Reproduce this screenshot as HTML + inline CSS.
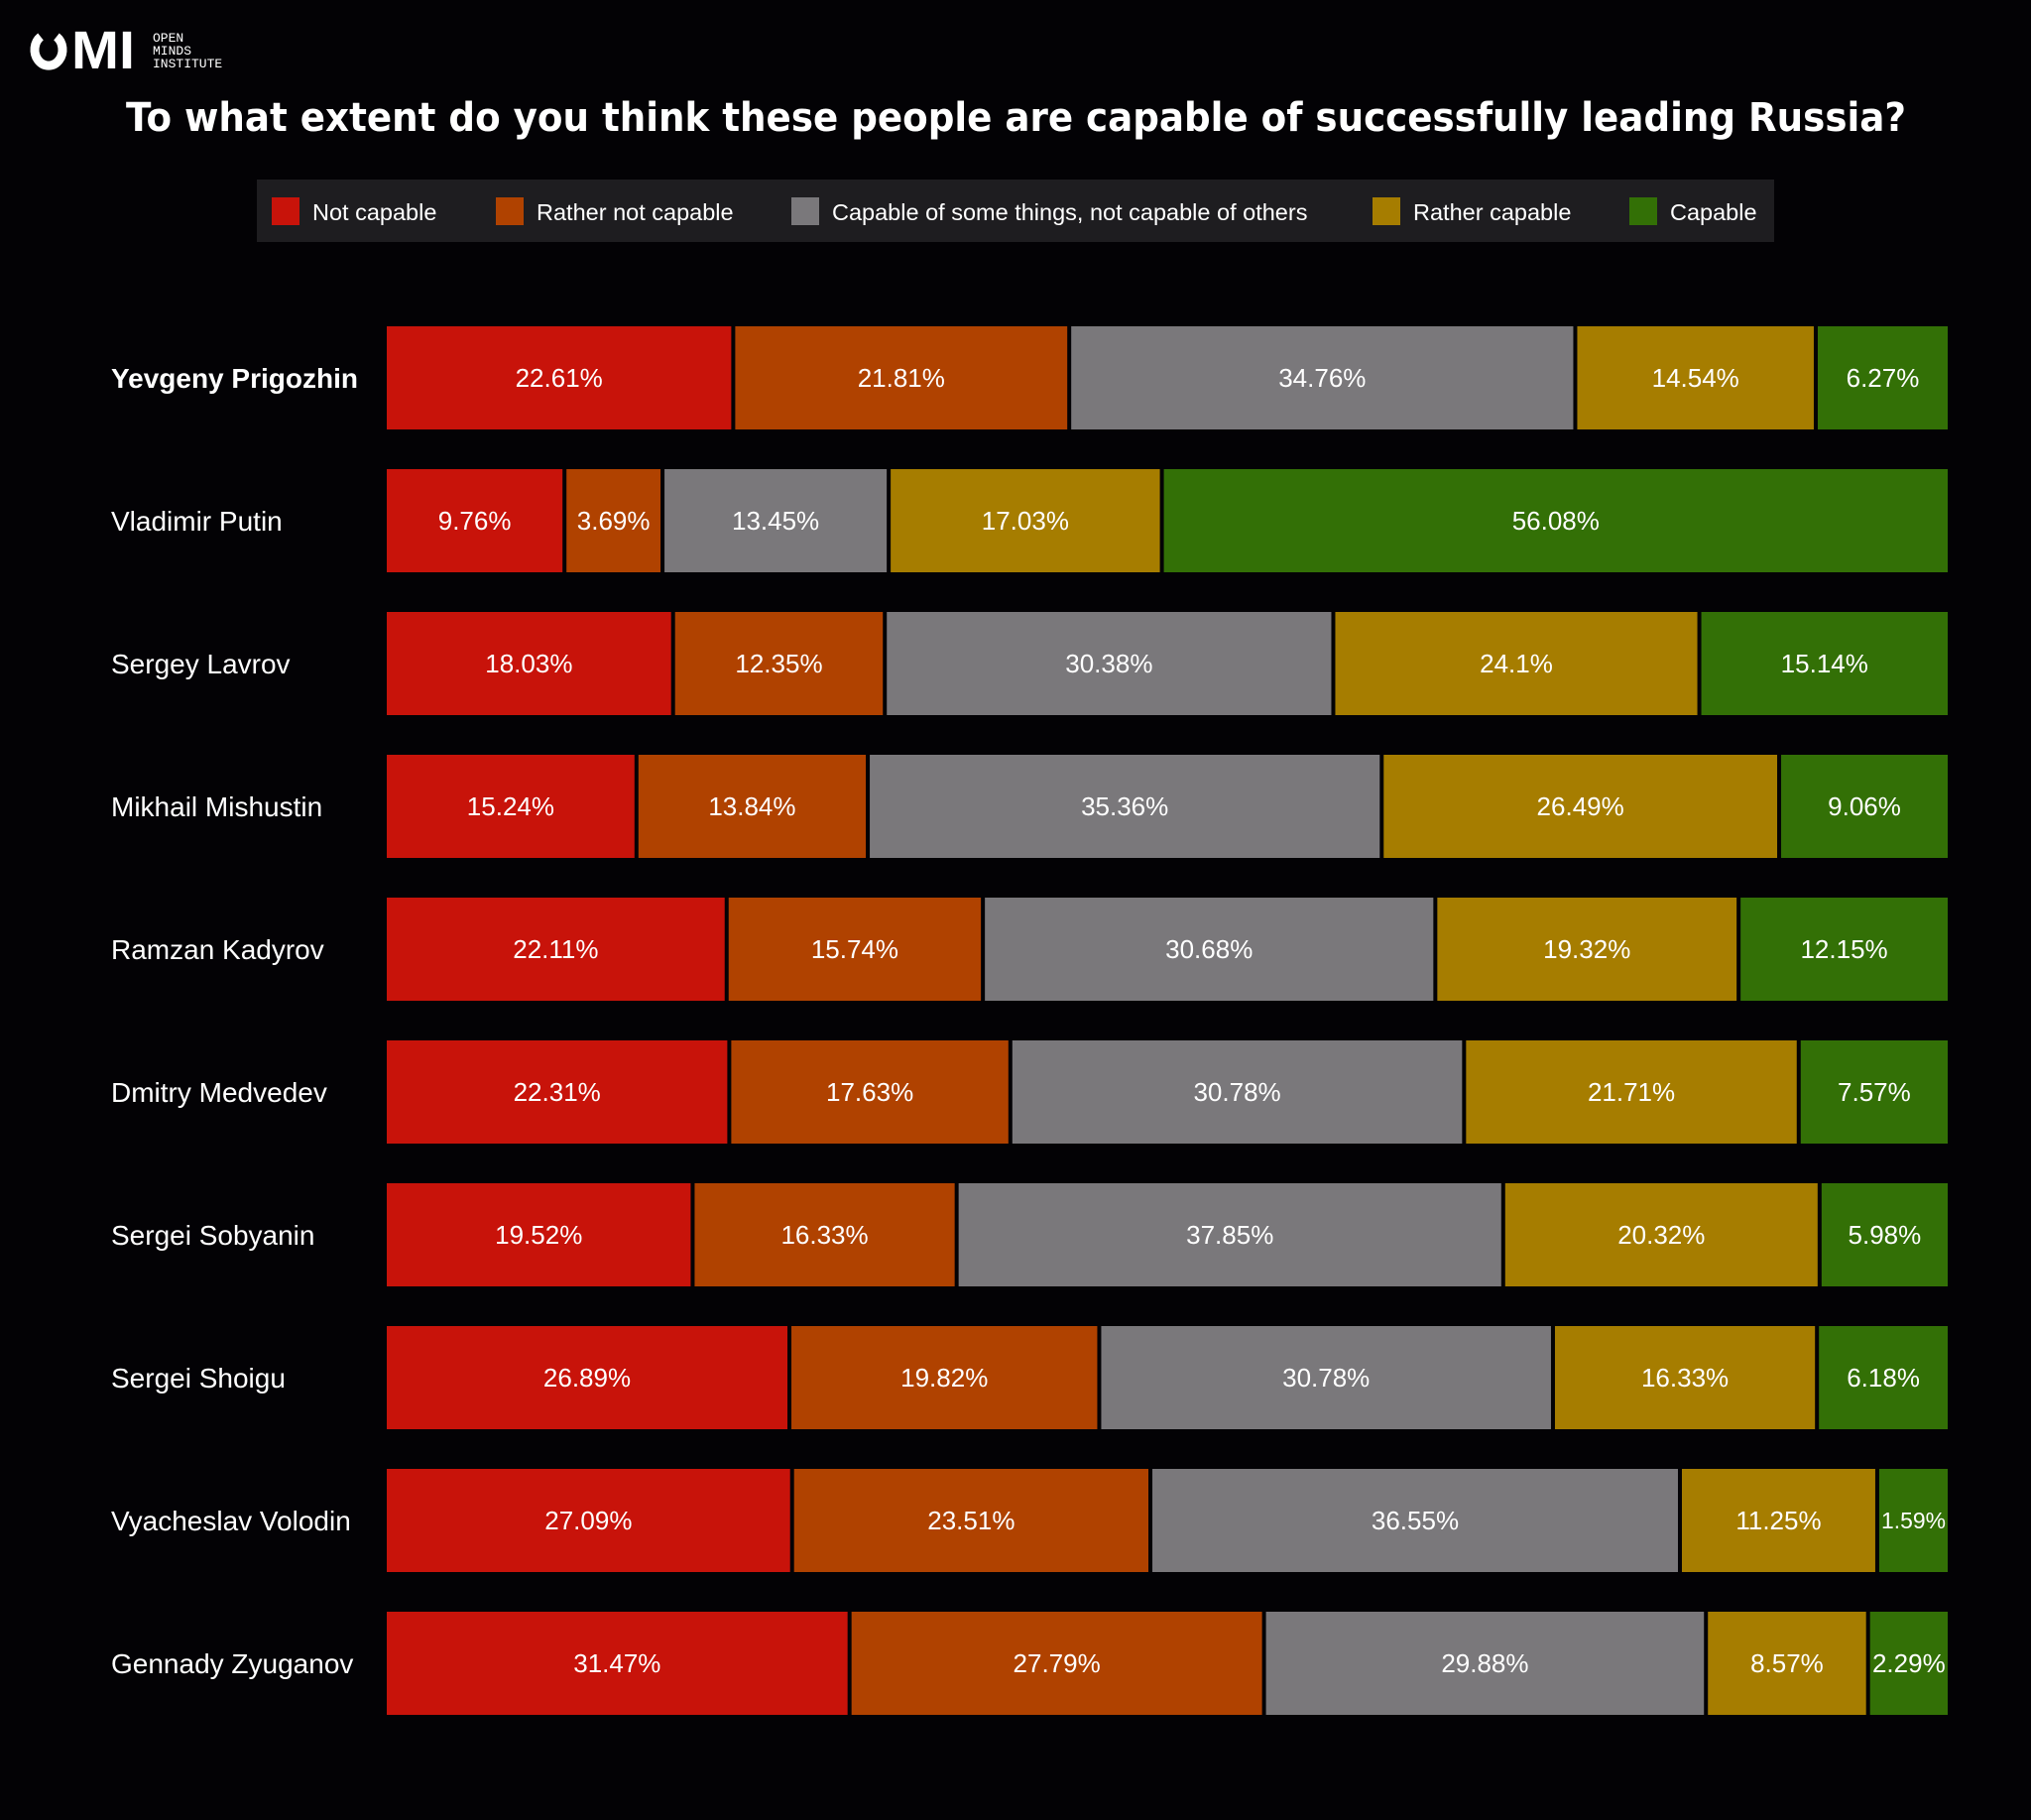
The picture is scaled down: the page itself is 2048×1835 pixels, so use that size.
<!DOCTYPE html>
<html><head><meta charset="utf-8"><style>
html,body{margin:0;padding:0;background:#030205;}
svg{display:block;}
</style></head><body>
<svg id="chart" width="2048" height="1835" viewBox="0 0 2048 1835" xmlns="http://www.w3.org/2000/svg">
<rect width="2048" height="1835" fill="#030205"/>
<g>
  <path d="M41,37 A14,16 0 1,0 57,37" fill="none" stroke="#fff" stroke-width="9"/>
  <text x="72" y="69" font-family="Liberation Sans, sans-serif" font-weight="bold" font-size="54" fill="#fff" textLength="64" lengthAdjust="spacingAndGlyphs">MI</text>
  <text font-family="Liberation Mono, monospace" font-size="13" fill="#fff">
    <tspan x="154" y="42">OPEN</tspan><tspan x="154" y="55">MINDS</tspan><tspan x="154" y="68">INSTITUTE</tspan>
  </text>
</g>
<text x="127" y="132" font-family="DejaVu Sans, sans-serif" font-weight="bold" font-size="40" fill="#fff" textLength="1795" lengthAdjust="spacingAndGlyphs">To what extent do you think these people are capable of successfully leading Russia?</text>
<g id="legend">
  <rect x="259" y="181" width="1530" height="63" fill="#1e1d20"/>
</g>
<g id="bars"></g>
</svg>
<script>
const categories = ["Yevgeny Prigozhin","Vladimir Putin","Sergey Lavrov","Mikhail Mishustin","Ramzan Kadyrov","Dmitry Medvedev","Sergei Sobyanin","Sergei Shoigu","Vyacheslav Volodin","Gennady Zyuganov"];
const seriesNames = ["Not capable","Rather not capable","Capable of some things, not capable of others","Rather capable","Capable"];
const notCapable = [22.61,9.76,18.03,15.24,22.11,22.31,19.52,26.89,27.09,31.47];
const ratherNot = [21.81,3.69,12.35,13.84,15.74,17.63,16.33,19.82,23.51,27.79];
const someThings = [34.76,13.45,30.38,35.36,30.68,30.78,37.85,30.78,36.55,29.88];
const ratherCapable = [14.54,17.03,24.1,26.49,19.32,21.71,20.32,16.33,11.25,8.57];
const capable = [6.27,56.08,15.14,9.06,12.15,7.57,5.98,6.18,1.59,2.29];

const colors = ["#c8130a","#b04200","#7a787b","#a67d00","#337006"];
const series = [notCapable, ratherNot, someThings, ratherCapable, capable];
const NS = "http://www.w3.org/2000/svg";
const X0 = 390, W = 1574, Y0 = 329, STEP = 144, BH = 104, GAP = 4, BASIS = 50;
const yScale = (i) => Y0 + i * STEP;

const legend = document.getElementById('legend');
const legX = [274, 500, 798, 1384, 1643];
seriesNames.forEach((n, k) => {
  const r = document.createElementNS(NS, 'rect');
  r.setAttribute('x', legX[k]); r.setAttribute('y', 199); r.setAttribute('width', 28); r.setAttribute('height', 28);
  r.setAttribute('fill', colors[k]);
  
  
  legend.appendChild(r);
  const t = document.createElementNS(NS, 'text');
  t.setAttribute('x', legX[k] + 41); t.setAttribute('y', 222);
  t.setAttribute('font-family', 'Liberation Sans, sans-serif'); t.setAttribute('font-size', '23.5'); t.setAttribute('fill', '#fff');
  t.textContent = n;
  
  
  legend.appendChild(t);
});

const bars = document.getElementById('bars');
categories.forEach((c, i) => {
  const y = yScale(i);
  const lab = document.createElementNS(NS, 'text');
  lab.setAttribute('x', 112); lab.setAttribute('y', y + BH/2 + 10);
  lab.setAttribute('font-family', 'Liberation Sans, sans-serif'); lab.setAttribute('font-size', '28'); lab.setAttribute('fill', '#fff');
  if (i === 0) lab.setAttribute('font-weight', 'bold');
  lab.textContent = c;
  
  
  bars.appendChild(lab);
  const total = series.reduce((s, a) => s + a[i], 0);
  const k2 = (W - BASIS * series.length) / total;
  let x = X0;
  series.forEach((arr, k) => {
    const v = arr[i];
    const w = BASIS + v * k2;
    const xa = x + (k === 0 ? 0 : GAP/2);
    const xb = x + w - (k === series.length - 1 ? 0 : GAP/2);
    x += w;
    const r = document.createElementNS(NS, 'rect');
    r.setAttribute('x', xa); r.setAttribute('y', y); r.setAttribute('width', Math.max(0, xb - xa)); r.setAttribute('height', BH);
    r.setAttribute('fill', colors[k]);
    
    
    bars.appendChild(r);
    const t = document.createElementNS(NS, 'text');
    t.setAttribute('x', (xa + xb) / 2); t.setAttribute('y', y + BH/2 + 9);
    t.setAttribute('text-anchor', 'middle');
    t.setAttribute('font-family', 'Liberation Sans, sans-serif'); t.setAttribute('font-size', '26'); t.setAttribute('fill', '#fff');
    t.textContent = v + '%';
    
    
    bars.appendChild(t);
    const tw = t.getComputedTextLength();
    if (tw > (xb - xa) - 4) {
      const fs = Math.max(12, 26 * ((xb - xa) - 4) / tw);
      t.setAttribute('font-size', fs.toFixed(1));
      t.setAttribute('y', y + BH/2 + fs * 0.35);
    }
  });
});
</script>
</body></html>
